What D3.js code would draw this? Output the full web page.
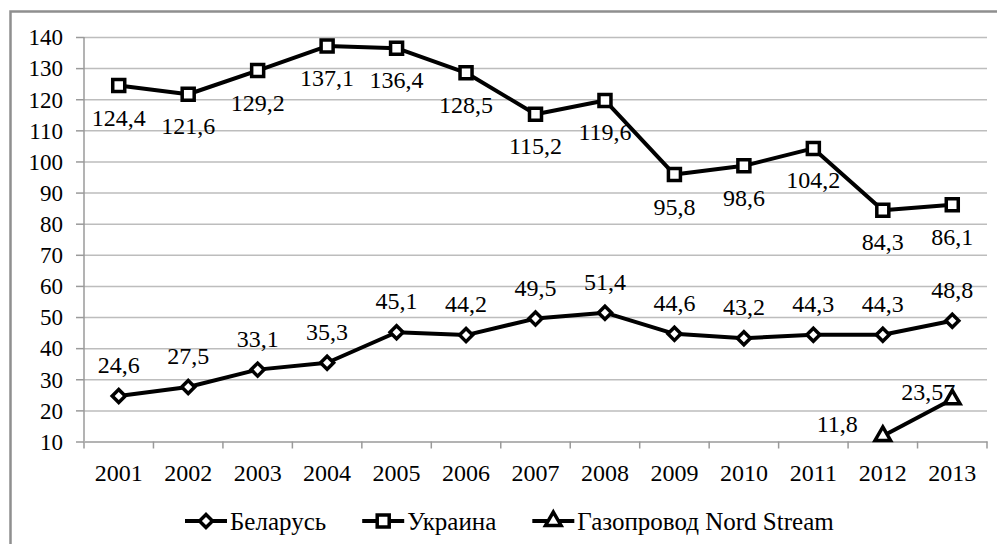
<!DOCTYPE html>
<html>
<head>
<meta charset="utf-8">
<script src="https://cdn.jsdelivr.net/npm/d3@7"></script>
<style>
    body { margin: 0; background: #fff; }
    svg { display: block; }
    svg text { font-family: "Liberation Serif", Tinos, "Times New Roman", serif; }
    .grid line { stroke: #bdbdbd; stroke-width: 1.5; }
    .grid path { display: none; }
    .axis path, .axis line { stroke: #9a9a9a; stroke-width: 1.5; }
    .axis text { fill: #000; }
</style>
</head>
<body>
<svg width="997" height="544"></svg>
<script>
const years = ['2001', '2002', '2003', '2004', '2005', '2006', '2007', '2008', '2009', '2010', '2011', '2012', '2013'];
const belarus = [24.6, 27.5, 33.1, 35.3, 45.1, 44.2, 49.5, 51.4, 44.6, 43.2, 44.3, 44.3, 48.8];
const ukraine = [124.4, 121.6, 129.2, 137.1, 136.4, 128.5, 115.2, 119.6, 95.8, 98.6, 104.2, 84.3, 86.1];
const nordStream = [null, null, null, null, null, null, null, null, null, null, null, 11.8, 23.57];
const yTicks = [10, 20, 30, 40, 50, 60, 70, 80, 90, 100, 110, 120, 130, 140];

const serif = 'Liberation Serif, Tinos, Times New Roman, serif';

// diamond = a square turned by 45 degrees
const series = [
    { name: 'Беларусь', values: belarus, symbol: d3.symbolSquare, size: 85, rotate: 45, place: 'above' },
    { name: 'Украина', values: ukraine, symbol: d3.symbolSquare, size: 144, rotate: 0, place: 'below' },
    { name: 'Газопровод Nord Stream', values: nordStream, symbol: d3.symbolTriangle, size: 105, rotate: 0, place: 'left' }
];

const svg = d3.select('svg');

// outer frame (only left and top edges show in the picture)
svg.append('rect')
    .attr('x', 10.5)
    .attr('y', 11.5)
    .attr('width', 1100)
    .attr('height', 700)
    .attr('fill', 'none')
    .attr('stroke', '#8f8f8f')
    .attr('stroke-width', 2.5);

const plotLeft = 84, plotRight = 987, plotTop = 37, plotBottom = 441.5;

const xScale = d3.scaleBand()
    .domain(years)
    .range([plotLeft, plotRight]);

const yScale = d3.scaleLinear()
    .domain([10, 140])
    .range([plotBottom, plotTop]);

const cx = (i) => xScale(years[i]) + xScale.bandwidth() / 2;

// horizontal grid
svg.append('g')
    .attr('class', 'grid')
    .attr('transform', `translate(${plotLeft}, 0)`)
    .call(d3.axisLeft(yScale)
        .tickValues(yTicks.slice(1))
        .tickSize(-(plotRight - plotLeft))
        .tickFormat('')
    );

// y axis
const yAxis = svg.append('g')
    .attr('class', 'axis')
    .attr('transform', `translate(${plotLeft}, 0)`)
    .call(d3.axisLeft(yScale)
        .tickValues(yTicks)
        .tickSize(8)
        .tickPadding(13)
        .tickSizeOuter(0)
    );
yAxis.attr('font-family', serif).attr('font-size', 23);
yAxis.selectAll('text').attr('dy', '0.34em');
yAxis.select('.domain').attr('d', `M0,${plotTop}V${plotBottom}`);

// x axis: ticks sit on the category boundaries
const xAxis = svg.append('g')
    .attr('class', 'axis')
    .attr('transform', `translate(0, ${plotBottom})`)
    .call(d3.axisBottom(xScale).tickSize(0).tickPadding(22));
xAxis.attr('font-family', serif).attr('font-size', 24);
xAxis.selectAll('.tick line').remove();
xAxis.selectAll('.bound')
    .data(years.concat(['end']))
    .enter()
    .append('line')
    .attr('x1', (d, i) => plotLeft + i * xScale.step())
    .attr('x2', (d, i) => plotLeft + i * xScale.step())
    .attr('y1', 0)
    .attr('y2', 7)
    .attr('stroke', '#9a9a9a')
    .attr('stroke-width', 1.5);

const line = d3.line()
    .defined((d) => d != null)
    .x((d, i) => cx(i))
    .y((d) => yScale(d));

series.forEach((s) => {
    const g = svg.append('g');

    g.append('path')
        .datum(s.values)
        .attr('d', line)
        .attr('fill', 'none')
        .attr('stroke', '#000')
        .attr('stroke-width', 4)
        .attr('stroke-linejoin', 'round');

    const pts = s.values.map((v, i) => ({ v, i })).filter((p) => p.v != null);

    g.selectAll('.marker')
        .data(pts)
        .enter()
        .append('path')
        .attr('transform', (p) => `translate(${cx(p.i)}, ${yScale(p.v)}) rotate(${s.rotate})`)
        .attr('d', d3.symbol().type(s.symbol).size(s.size))
        .attr('fill', '#fff')
        .attr('stroke', '#000')
        .attr('stroke-width', 3.5);

    g.selectAll('.lbl')
        .data(pts)
        .enter()
        .append('text')
        .attr('font-family', serif)
        .attr('font-size', 24)
        .attr('fill', '#000')
        .attr('text-anchor', s.place === 'left' ? 'end' : 'middle')
        .attr('x', (p) => {
            if (s.place !== 'left') return cx(p.i);
            // the 2013 Nord Stream label is pushed up against its marker
            return p.i === years.length - 1 ? cx(p.i) + 3 : cx(p.i) - 25;
        })
        .attr('y', (p) => {
            const y = yScale(p.v);
            if (s.place === 'above') return y - 23;
            if (s.place === 'below') return y + 40;
            return p.i === years.length - 1 ? y + 1 : y - 4;
        })
        .text((p) => String(p.v).replace('.', ','));
});

// legend
const legend = svg.append('g').attr('transform', 'translate(0, 521)');
let lx = 185;
series.forEach((s) => {
    const item = legend.append('g').attr('transform', `translate(${lx}, 0)`);
    item.append('line')
        .attr('x1', 0).attr('x2', 42)
        .attr('y1', 0).attr('y2', 0)
        .attr('stroke', '#000')
        .attr('stroke-width', 4);
    item.append('path')
        .attr('transform', `translate(21, 0) rotate(${s.rotate})`)
        .attr('d', d3.symbol().type(s.symbol).size(s.size))
        .attr('fill', '#fff')
        .attr('stroke', '#000')
        .attr('stroke-width', 3.5);
    const t = item.append('text')
        .attr('x', 45)
        .attr('dy', '0.35em')
        .attr('font-family', serif)
        .attr('font-size', 25)
        .attr('fill', '#000')
        .text(s.name);
    lx += 45 + t.node().getComputedTextLength() + 36;
});
</script>
</body>
</html>
